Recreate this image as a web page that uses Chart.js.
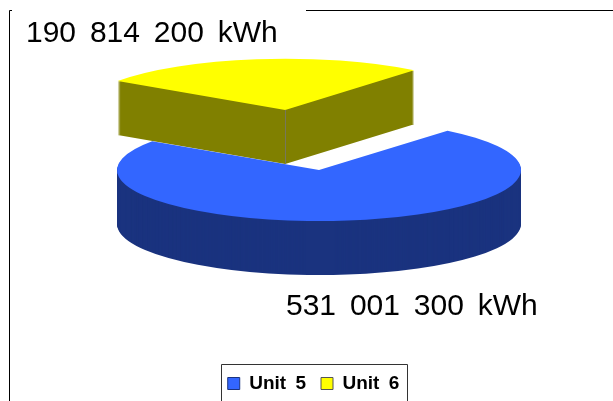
<!DOCTYPE html>
<html>
<head>
<meta charset="utf-8">
<style>
  html, body { margin: 0; padding: 0; background: #fff; overflow: hidden; }
  canvas { display: block; }
</style>
<script src="https://cdn.jsdelivr.net/npm/chart.js@4"></script>
</head>
<body>
<canvas id="pie" width="613" height="401"></canvas>
<script>
/* ===================== DATA ===================== */
const units = ["Unit 5", "Unit 6"];
const energy = [531001300, 190814200];
const energyLabels = ["531 001 300 kWh", "190 814 200 kWh"];

/* ===================== STYLE ===================== */
const topColors = ["#3366ff", "#ffff00"];
const sideColors = ["#1a337f", "#808000"];
const labelPos = [[286, 315], [26, 42]];

/* 3d look: the flat pie is squashed onto this ellipse */
const PIE = { cx: 319, cy: 170, rx: 202, ry: 51, depth: 54, radius: 50 };
const FONT = '"Liberation Sans", Arial, sans-serif';

function drawArc(ctx, arc, color, lift) {
  const saved = arc.options;
  const s = PIE.radius;
  arc.options = {
    backgroundColor: color,
    borderColor: color,
    borderWidth: 0,
    offset: saved.offset,
    spacing: 0,
    borderRadius: 0,
    circular: true,
    borderAlign: "center"
  };
  ctx.save();
  ctx.translate(PIE.cx, PIE.cy + lift);
  ctx.scale(PIE.rx / s, PIE.ry / s);
  ctx.translate(-arc.x, -arc.y);
  arc.draw(ctx);
  ctx.restore();
  arc.options = saved;
}

const pie3d = {
  id: "pie3d",
  beforeLayout(chart) {
    chart.ctx.wordSpacing = "4px"; // legend text is set wide in the original
  },
  afterLayout(chart) {
    chart.legend.top += 2;
    chart.legend.bottom += 2;
  },
  beforeDraw(chart) {
    const ctx = chart.ctx;
    ctx.wordSpacing = "4px";
    ctx.save();
    ctx.strokeStyle = "#000";
    ctx.lineWidth = 1;
    // outer frame, the top label's white box interrupts it
    ctx.beginPath();
    ctx.moveTo(12, 10.5);
    ctx.lineTo(9.5, 10.5);
    ctx.lineTo(9.5, 401);
    ctx.moveTo(306, 10.5);
    ctx.lineTo(613, 10.5);
    ctx.stroke();
    // legend box, cut off by the bottom of the picture
    ctx.strokeStyle = "#333";
    ctx.beginPath();
    ctx.moveTo(221.5, 401);
    ctx.lineTo(221.5, 364.5);
    ctx.lineTo(407.5, 364.5);
    ctx.lineTo(407.5, 401);
    ctx.stroke();
    ctx.restore();
  },
  beforeDatasetDraw(chart, args) {
    const ctx = chart.ctx;
    const arcs = args.meta.data;
    arcs.forEach((arc, i) => {
      for (let d = PIE.depth; d > 0; d--) drawArc(ctx, arc, sideColors[i], d);
    });
    arcs.forEach((arc, i) => drawArc(ctx, arc, topColors[i], 0));

    // front edge of the pulled out slice
    const arc = arcs[1];
    const mid = (arc.startAngle + arc.endAngle) / 2;
    const shift = arc.options.offset / 4;
    const x = PIE.cx + Math.cos(mid) * shift * PIE.rx / PIE.radius;
    const y = PIE.cy + Math.sin(mid) * shift * PIE.ry / PIE.radius;
    ctx.save();
    ctx.strokeStyle = "#77775a";
    ctx.lineWidth = 1;
    ctx.beginPath();
    ctx.moveTo(Math.round(x) + 0.5, y);
    ctx.lineTo(Math.round(x) + 0.5, y + PIE.depth);
    ctx.stroke();
    ctx.restore();
    return false;
  },
  afterDraw(chart) {
    const ctx = chart.ctx;
    ctx.save();
    ctx.font = "30px " + FONT;
    ctx.fillStyle = "#000";
    ctx.wordSpacing = "5.5px";
    ctx.textBaseline = "alphabetic";
    energyLabels.forEach((t, i) => ctx.fillText(t, labelPos[i][0], labelPos[i][1]));
    ctx.restore();
  }
};

new Chart(document.getElementById("pie"), {
  type: "pie",
  data: {
    labels: units,
    datasets: [{
      data: energy,
      backgroundColor: topColors,
      borderColor: sideColors,
      borderWidth: 0,
      offset: [0, 238]
    }]
  },
  options: {
    responsive: false,
    animation: false,
    rotation: 39.5,
    radius: PIE.radius,
    layout: { padding: { left: 14, bottom: 0 } },
    plugins: {
      tooltip: { enabled: false },
      legend: {
        position: "bottom",
        labels: {
          color: "#000",
          boxWidth: 12,
          boxHeight: 12,
          padding: 15,
          font: { family: FONT, size: 19, weight: "bold" },
          generateLabels: () => units.map((u, i) => ({
            text: u,
            fillStyle: topColors[i],
            strokeStyle: i === 0 ? sideColors[0] : "#555",
            lineWidth: 1,
            index: i
          }))
        }
      }
    }
  },
  plugins: [pie3d]
});
</script>
</body>
</html>
